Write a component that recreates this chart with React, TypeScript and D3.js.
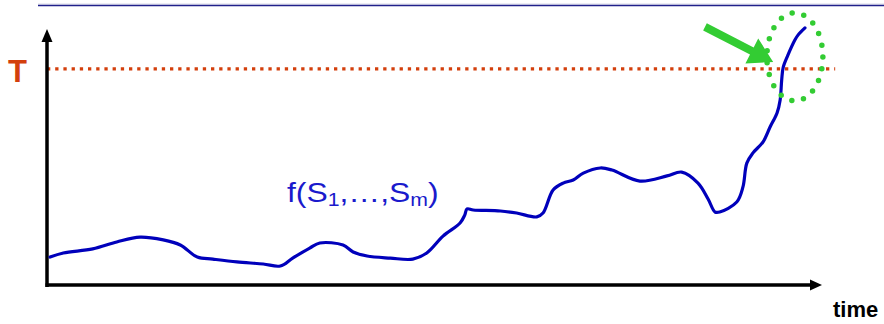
import React from "react";
import * as d3 from "d3";

// time axis (0..100) and f(S1..Sm) value (0..100)
const times = [
  0.4, 2.1, 5.9, 9.0, 12.0, 15.0, 17.2, 19.4, 21.4, 24.5, 27.9, 30.1, 31.7, 33.9, 35.2,
  38.2, 39.5, 41.3, 44.3, 47.2, 49.0, 51.1, 53.3, 53.9, 54.2, 55.0, 58.5, 60.6, 63.2, 64.0,
  65.3, 66.6, 67.9, 69.2, 71.4, 72.9, 76.5, 80.0, 81.9, 84.0, 85.3, 86.2, 86.8, 89.0, 89.8,
  90.3, 91.1, 92.4, 93.3, 94.2, 94.6, 94.8, 95.0, 95.6, 96.5, 96.9, 97.8,
];
const values = [
  11.3, 12.9, 14.5, 17.2, 19.1, 18.0, 16.0, 11.3, 10.5, 9.4, 8.6, 7.8, 10.9, 14.8, 16.8,
  16.0, 13.3, 11.7, 10.9, 10.5, 12.9, 19.5, 24.6, 27.7, 30.1, 29.7, 29.3, 28.5, 27.0, 28.5,
  37.5, 40.2, 41.4, 44.1, 46.1, 45.3, 41.0, 43.0, 44.5, 40.2, 34.0, 28.9, 28.9, 32.8, 38.7,
  48.0, 52.0, 56.3, 62.1, 67.6, 72.7, 80.5, 85.5, 90.2, 96.1, 98.0, 100.8,
];
const threshold = 84.8;
const thresholdEnd = 101.7;
const thresholdLabel = "T";
const xLabel = "time";
const seriesLabel = ["f(S", "1", ",…,S", "m", ")"];
// annotation anchors (time, value)
const circleCenter = [96.5, 89.5];
const arrowStart = [84.9, 101.2];
const arrowTip = [93.7, 87.5];

export default function App() {
  const W = 884,
    H = 324;
  const x = d3.scaleLinear().domain([0, 100]).range([47, 822]);
  const y = d3.scaleLinear().domain([0, 100]).range([286, 30]);
  const data: [number, number][] = times.map((t, i) => [t, values[i]]);
  const line = d3
    .line<[number, number]>()
    .x((d) => x(d[0]))
    .y((d) => y(d[1]))
    .curve(d3.curveCatmullRom.alpha(0.5));

  // green arrow polygon
  const sx = x(arrowStart[0]),
    sy = y(arrowStart[1]);
  const tx = x(arrowTip[0]),
    ty = y(arrowTip[1]);
  const len = Math.hypot(tx - sx, ty - sy);
  const ux = (tx - sx) / len,
    uy = (ty - sy) / len;
  const nx = -uy,
    ny = ux;
  const shaftW = 8,
    headL = 24,
    headW = 28;
  const bx = tx - ux * headL,
    by = ty - uy * headL;
  const arrowPts = [
    [sx + (nx * shaftW) / 2, sy + (ny * shaftW) / 2],
    [bx + (nx * shaftW) / 2, by + (ny * shaftW) / 2],
    [bx + (nx * headW) / 2, by + (ny * headW) / 2],
    [tx, ty],
    [bx - (nx * headW) / 2, by - (ny * headW) / 2],
    [bx - (nx * shaftW) / 2, by - (ny * shaftW) / 2],
    [sx - (nx * shaftW) / 2, sy - (ny * shaftW) / 2],
  ]
    .map((p) => p.join(","))
    .join(" ");

  const x0 = x(0),
    y0 = y(0);
  const yTop = y(100) - 1;
  const xEnd = x(100);

  return (
    <svg
      width={W}
      height={H}
      style={{ position: "absolute", left: 0, top: 0, background: "#fff" }}
      fontFamily="'Liberation Sans', Arial, sans-serif"
    >
      <rect width={W} height={H} fill="#fff" />
      {/* top rule */}
      <line x1={38} x2={W} y1={4} y2={4} stroke="#d8d8e8" strokeWidth={1} />
      <line x1={38} x2={W} y1={5.5} y2={5.5} stroke="#20208a" strokeWidth={1.5} />

      {/* threshold */}
      <line
        x1={x0}
        x2={x(thresholdEnd)}
        y1={y(threshold)}
        y2={y(threshold)}
        stroke="#d33f0c"
        strokeWidth={3.3}
        strokeDasharray="3.3 4.9"
      />
      <text x={8} y={y(threshold) + 13} fontSize={31} fontWeight="bold" fill="#d33f0c">
        {thresholdLabel}
      </text>

      {/* axes */}
      <line x1={x0} x2={x0} y1={y0 + 1} y2={yTop + 10} stroke="#000" strokeWidth={3.5} />
      <polygon
        points={`${x0},${yTop} ${x0 - 5.5},${yTop + 13} ${x0 + 5.5},${yTop + 13}`}
        fill="#000"
      />
      <line x1={x0 - 1.5} x2={xEnd - 10} y1={y0 - 1} y2={y0 - 1} stroke="#000" strokeWidth={3.5} />
      <polygon
        points={`${xEnd},${y0 - 1} ${xEnd - 12},${y0 - 6.5} ${xEnd - 12},${y0 + 4.5}`}
        fill="#000"
      />
      <text x={833} y={317} fontSize={22} fontWeight="bold" fill="#000">
        {xLabel}
      </text>

      {/* series */}
      <path
        d={line(data) || ""}
        fill="none"
        stroke="#0000bb"
        strokeWidth={3.2}
        strokeLinejoin="round"
        strokeLinecap="round"
      />
      <g transform="translate(287,202) scale(1.18,1)">
        <text x={0} y={0} fontSize={27} fill="#1a1acc">
          {seriesLabel[0]}
          <tspan fontSize={18} dy={4}>
            {seriesLabel[1]}
          </tspan>
          <tspan dy={-4}>{seriesLabel[2]}</tspan>
          <tspan fontSize={18} dy={4}>
            {seriesLabel[3]}
          </tspan>
          <tspan dy={-4}>{seriesLabel[4]}</tspan>
        </text>
      </g>

      {/* annotation */}
      <ellipse
        cx={x(circleCenter[0])}
        cy={y(circleCenter[1])}
        rx={28}
        ry={44}
        fill="none"
        stroke="#33cc33"
        strokeWidth={5.5}
        strokeLinecap="round"
        strokeDasharray="0 12.05"
      />
      <polygon points={arrowPts} fill="#33cc33" />
    </svg>
  );
}
